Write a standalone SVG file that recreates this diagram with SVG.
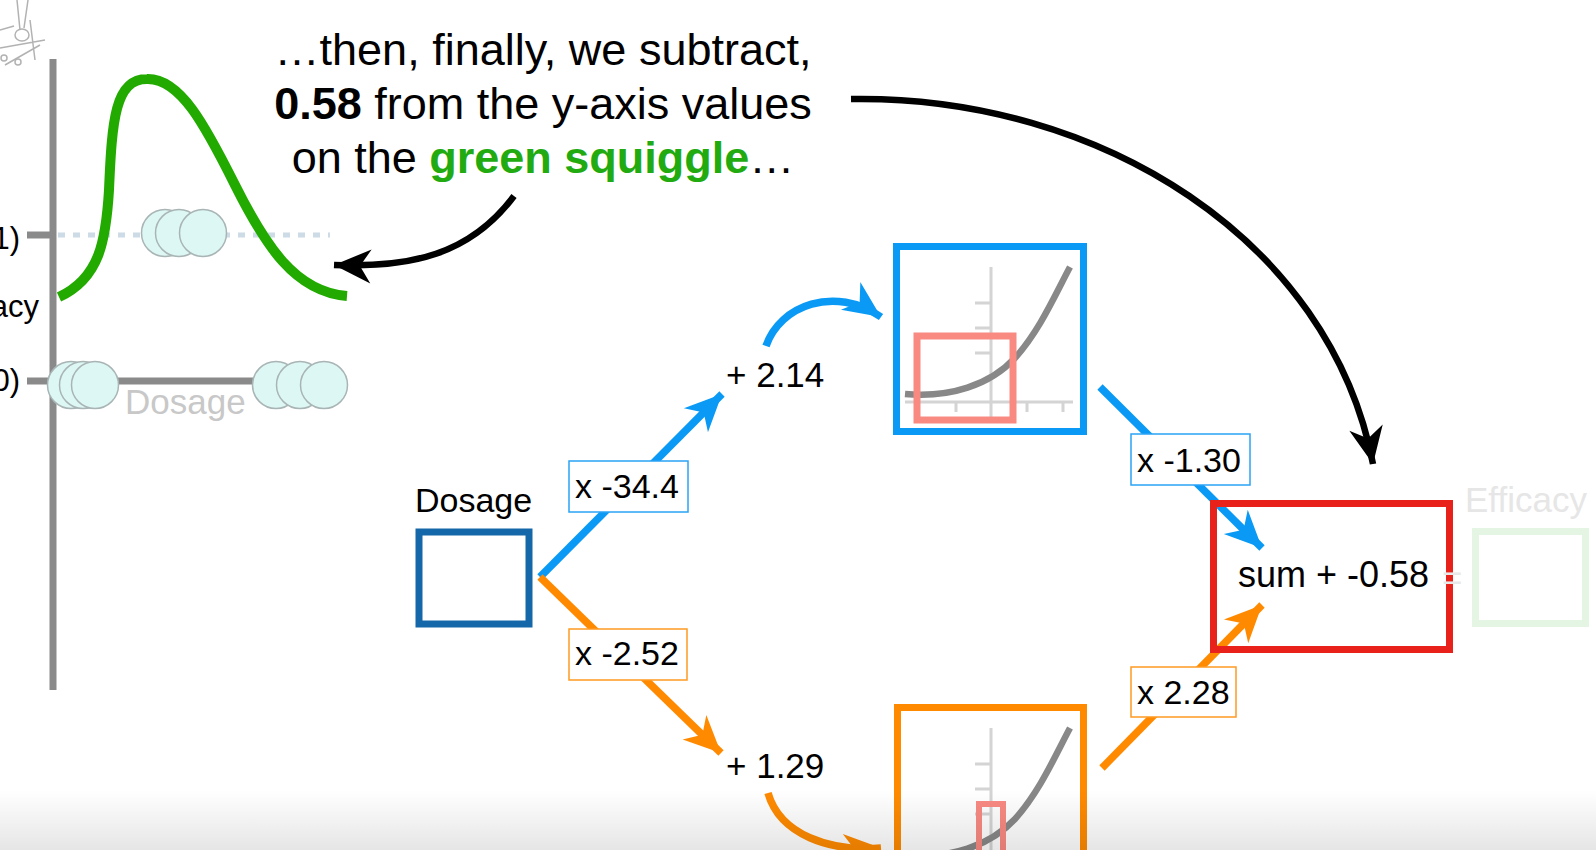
<svg xmlns="http://www.w3.org/2000/svg" width="1596" height="850" viewBox="0 0 1596 850">
<defs>
<style>
text{font-family:"Liberation Sans",Arial,sans-serif;fill:#000}
.cap{font-size:45px}
.lbl{font-size:34px}
.num{font-size:35px}
.axis{stroke:#8a8a8a;stroke-width:7;fill:none}
.dot{fill:#ddf7f5;stroke:#a9b5b5;stroke-width:1.5}
.lblbox-b{fill:#fff;stroke:#2aa3f5;stroke-width:1.5}
.lblbox-o{fill:#fff;stroke:#ff9a22;stroke-width:1.5}
.blue{stroke:#0a9af5;stroke-width:7.5;fill:none}
.orange{stroke:#ff8a00;stroke-width:7.5;fill:none}
.blk{stroke:#000;stroke-width:6.5;fill:none}
.gaxis{stroke:#d4d4d4;stroke-width:3;fill:none}
.gcurve{stroke:#888;stroke-width:6.5;fill:none}
.salmon{stroke:#f98a82;fill:none}
</style>
<marker id="ah-blue" viewBox="-40 -20 42 40" refX="0" refY="0" markerWidth="42" markerHeight="40" markerUnits="userSpaceOnUse" orient="auto"><path d="M0,0 L-37,-17 L-26,0 L-37,17 Z" fill="#0a9af5"/></marker>
<marker id="ah-orange" viewBox="-40 -20 42 40" refX="0" refY="0" markerWidth="42" markerHeight="40" markerUnits="userSpaceOnUse" orient="auto"><path d="M0,0 L-37,-17 L-26,0 L-37,17 Z" fill="#ff8a00"/></marker>
<marker id="ah-black" viewBox="-40 -20 42 40" refX="0" refY="0" markerWidth="42" markerHeight="40" markerUnits="userSpaceOnUse" orient="auto"><path d="M0,0 L-37,-17 L-26,0 L-37,17 Z" fill="#000"/></marker>
<linearGradient id="fade" x1="0" y1="0" x2="0" y2="1"><stop offset="0" stop-color="#000" stop-opacity="0"/><stop offset="1" stop-color="#000" stop-opacity="0.1"/></linearGradient>
</defs>
<rect width="1596" height="850" fill="#fff"/>

<g id="logo" stroke="#a0a0a0" stroke-width="1.5" fill="none" opacity="0.8">
<path d="M17,0 L20,30 M28,0 L24,28"/>
<ellipse cx="22" cy="35" rx="7" ry="6"/>
<path d="M0,48 L45,40 M5,65 L40,45 M30,20 L35,60 M0,30 L14,26"/>
<circle cx="4" cy="58" r="3"/><circle cx="18" cy="62" r="3"/>
</g>

<g id="chart">
<line class="axis" x1="53" y1="59" x2="53" y2="690"/>
<line class="axis" x1="27" y1="235" x2="53" y2="235"/>
<line class="axis" x1="27" y1="381" x2="320" y2="381"/>
<line x1="58" y1="235" x2="330" y2="235" stroke="#cddbe6" stroke-width="5" stroke-dasharray="7 8"/>
<text x="20" y="249" text-anchor="end" style="font-size:31px">(1)</text>
<text x="39" y="317" text-anchor="end" style="font-size:31px">Efficacy</text>
<text x="20" y="391" text-anchor="end" style="font-size:31px">(0)</text>
<text x="125" y="414" style="font-size:35px;fill:#c8c8c8">Dosage</text>
<circle class="dot" cx="165" cy="233" r="23.5"/>
<circle class="dot" cx="179" cy="233" r="23.5"/>
<circle class="dot" cx="203" cy="233" r="23.5"/>
<circle class="dot" cx="71" cy="385" r="23.5"/>
<circle class="dot" cx="83" cy="385" r="23.5"/>
<circle class="dot" cx="95" cy="385" r="23.5"/>
<circle class="dot" cx="276" cy="385" r="23.5"/>
<circle class="dot" cx="300" cy="385" r="23.5"/>
<circle class="dot" cx="324" cy="385" r="23.5"/>
<path d="M59,297 C100,278 106,240 109,190 C112,120 115,79 147,79 C180,78 205,125 235,185 C265,245 295,292 347,296" stroke="#22aa00" stroke-width="10" fill="none"/>
</g>

<g id="caption">
<text class="cap" x="543" y="65" text-anchor="middle">…then, finally, we subtract,</text>
<text class="cap" x="543" y="119" text-anchor="middle"><tspan font-weight="bold">0.58</tspan> from the y-axis values</text>
<text class="cap" x="543" y="173" text-anchor="middle">on the <tspan font-weight="bold" style="fill:#22aa11">green squiggle</tspan>…</text>
</g>

<g id="connectors">
<path class="blk" d="M514,196 C470,255 410,268 334,265" marker-end="url(#ah-black)"/>
<path class="blk" d="M851,99 C1100,95 1330,240 1373,464" marker-end="url(#ah-black)"/>
<path class="blue" d="M540,577 L722,394" marker-end="url(#ah-blue)"/>
<path class="orange" d="M540,577 L721,753" marker-end="url(#ah-orange)"/>
<path class="blue" d="M766,346 C780,305 835,285 881,317" marker-end="url(#ah-blue)"/>
<path class="orange" d="M768,793 C780,835 830,852 881,848" marker-end="url(#ah-orange)"/>
<path class="blue" d="M1100,387 L1262,548" marker-end="url(#ah-blue)"/>
<path class="orange" d="M1102,768 L1262,605" marker-end="url(#ah-orange)"/>
</g>

<g id="dosage-input">
<text class="lbl" x="415" y="512">Dosage</text>
<rect x="419" y="532" width="110" height="92" fill="none" stroke="#1467a8" stroke-width="7"/>
</g>

<g id="w1-label"><rect class="lblbox-b" x="569" y="461" width="119" height="51"/><text class="lbl" x="575" y="498">x -34.4</text></g>
<g id="w2-label"><rect class="lblbox-o" x="569" y="629" width="118" height="51"/><text class="lbl" x="575" y="665">x -2.52</text></g>
<g id="b1-label"><text class="num" x="726" y="387">+ 2.14</text></g>
<g id="b2-label"><text class="num" x="726" y="778">+ 1.29</text></g>

<g id="softplus-top">
<rect x="896.5" y="246.5" width="187" height="185" fill="#fff" stroke="#0a9af5" stroke-width="7"/>
<path class="gaxis" d="M991,267 L991,417 M905,402 L1073,402 M956,402 L956,412 M1027,402 L1027,412 M1063,402 L1063,412 M975,303 L991,303 M975,328 L991,328 M975,353 L991,353"/>
<path class="gcurve" d="M905,394 C950,398 990,385 1015,358 C1040,330 1055,295 1070,267"/>
<rect class="salmon" x="917" y="336" width="96" height="84" stroke-width="7"/>
</g>

<g id="softplus-bottom">
<rect x="897.5" y="707.5" width="186" height="185" fill="#fff" stroke="#ff8a00" stroke-width="7"/>
<path class="gaxis" d="M991,728 L991,878 M975,764 L991,764 M975,789 L991,789 M975,814 L991,814"/>
<path class="gcurve" d="M905,855 C950,859 990,846 1015,819 C1040,791 1055,756 1070,728"/>
<rect class="salmon" x="979" y="804" width="24" height="70" stroke-width="6"/>
</g>

<g id="w3-label"><rect class="lblbox-b" x="1131" y="434" width="119" height="51"/><text class="lbl" x="1137" y="472">x -1.30</text></g>
<g id="w4-label"><rect class="lblbox-o" x="1131" y="667" width="105" height="50"/><text class="lbl" x="1137" y="704">x 2.28</text></g>

<g id="sum-node">
<rect x="1213.5" y="503.5" width="236" height="146" fill="none" stroke="#e8211a" stroke-width="7"/>
<text x="1238" y="587" style="font-size:36px">sum + -0.58</text>
</g>

<g id="efficacy-output">
<text x="1442" y="590" style="font-size:35px;fill:#e8e8e8">=</text>
<text x="1465" y="512" style="font-size:35px;fill:#e6e6e6">Efficacy</text>
<rect x="1475.5" y="531.5" width="110" height="92" fill="none" stroke="#e5f5e3" stroke-width="7"/>
</g>

<rect x="0" y="790" width="1596" height="60" fill="url(#fade)"/>
</svg>
